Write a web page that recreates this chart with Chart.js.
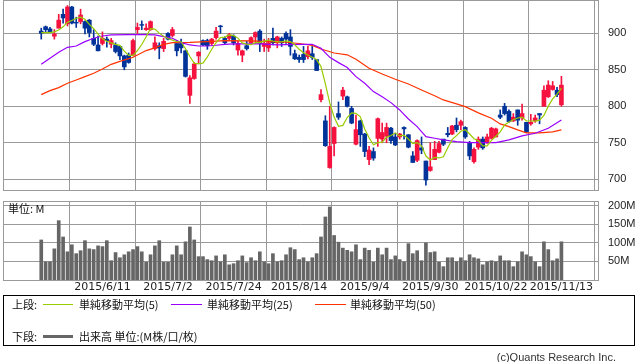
<!DOCTYPE html>
<html lang="ja">
<head>
<meta charset="utf-8">
<script src="https://cdn.jsdelivr.net/npm/chart.js@4.4.0/dist/chart.umd.min.js"></script>
<style>
  html, body { margin: 0; padding: 0; background: #fff; }
  body { width: 638px; height: 362px; position: relative; overflow: hidden; color: #111;
         font-family: "Noto Sans CJK JP", "DejaVu Sans", sans-serif; }
  canvas { position: absolute; left: 0; }
  #priceChart { top: 0; }
  #volumeChart { top: 200px; }
  .txt { position: absolute; font-size: 11px; line-height: 14px; white-space: nowrap; }
  .box { position: absolute; left: 3px; top: 295px; width: 632px; height: 51px;
         border: 1px solid #000; box-sizing: border-box; }
  .ln { position: absolute; height: 0; width: 30px; border-top: 1px solid; }
  .copy { position: absolute; right: 22px; top: 350px; font: 11px/14px "Liberation Sans", Arial, sans-serif; color: #333; }
</style>
</head>
<body>
<canvas id="priceChart" width="638" height="191"></canvas>
<canvas id="volumeChart" width="638" height="100"></canvas>

<div class="txt" style="left:8px;top:201px">単位: M</div>

<div class="box"></div>
<div class="txt" style="left:12px;top:297px">上段:</div>
<div class="ln" style="left:43px;top:304px;border-color:#99cc00"></div>
<div class="txt" style="left:79px;top:297px">単純移動平均(5)</div>
<div class="ln" style="left:171px;top:304px;width:31px;border-color:#9900ff"></div>
<div class="txt" style="left:207px;top:297px">単純移動平均(25)</div>
<div class="ln" style="left:315px;top:304px;width:31px;border-color:#ff3300"></div>
<div class="txt" style="left:350px;top:297px">単純移動平均(50)</div>
<div class="txt" style="left:12px;top:329px">下段:</div>
<div style="position:absolute;left:43px;top:335px;width:30px;height:3px;background:#666"></div>
<div class="txt" style="left:79px;top:329px">出来高 単位:(M株/口/枚)</div>
<div class="copy">(c)Quants Research Inc.</div>

<script>
// x axis: trading-day index 0 = 2015/5/22
const tickIdx = [14, 29, 44, 59, 74, 89, 104, 119];
const tickLabels = ['2015/6/11', '2015/7/2', '2015/7/24', '2015/8/14', '2015/9/4', '2015/9/30', '2015/10/22', '2015/11/13'];
const priceTicks = [700, 750, 800, 850, 900];
const volumeTicks = [50, 100, 150, 200];

const opens = [903, 909, 906, 896, 907, 926, 913, 936, 915, 916,
  916, 918, 893, 884, 886, 892, 885, 884, 882, 869,
  870, 870, 905, 912, 905, 905, 879, 883, 879, 900,
  897, 886, 886, 876, 815, 838, 869, 890, 890, 886,
  894, 910, 893, 893, 896, 877, 870, 883, 887, 895,
  903, 882, 880, 893, 887, 893, 900, 895, 872, 867,
  871, 868, 872, 864, 809, 780, 716, 749, 790, 814,
  813, 797, 748, 780, 762, 727, 738, 756, 755, 759,
  770, 758, 758, 771, 761, 732, 726, 743, 725, 712,
  727, 737, 755, 763, 762, 774, 774, 771, 750, 724,
  744, 755, 750, 756, 758, 788, 800, 793, 780, 795,
  784, 778, 776, 780, 790, 800, 813, 823, 822, 802];
const highs = [907, 910, 908, 905, 926, 933, 938, 937, 922, 933,
  917, 919, 905, 896, 902, 895, 893, 887, 882, 870,
  873, 892, 914, 917, 913, 917, 895, 887, 893, 901,
  908, 890, 892, 877, 842, 860, 875, 891, 892, 893,
  908, 911, 895, 900, 898, 889, 877, 889, 895, 902,
  905, 892, 893, 907, 896, 895, 902, 905, 877, 870,
  882, 882, 882, 864, 823, 787, 800, 772, 806, 826,
  814, 800, 788, 781, 763, 745, 743, 784, 777, 777,
  771, 763, 763, 772, 761, 738, 754, 758, 725, 750,
  752, 752, 755, 771, 774, 784, 781, 772, 752, 743,
  758, 758, 762, 771, 770, 795, 804, 795, 790, 795,
  803, 778, 789, 788, 790, 828, 835, 834, 826, 841];
const lows = [892, 902, 901, 892, 907, 914, 910, 913, 908, 913,
  899, 895, 883, 876, 884, 881, 880, 873, 864, 850,
  859, 869, 900, 905, 904, 904, 877, 865, 875, 891,
  895, 869, 873, 840, 804, 837, 858, 883, 878, 884,
  892, 900, 885, 891, 884, 870, 861, 877, 886, 886,
  875, 875, 875, 884, 880, 882, 886, 870, 864, 860,
  860, 865, 864, 849, 806, 745, 715, 732, 782, 809,
  799, 776, 747, 745, 731, 720, 726, 745, 750, 750,
  749, 746, 755, 755, 743, 723, 724, 735, 692, 711,
  727, 736, 746, 758, 761, 765, 768, 756, 727, 722,
  741, 741, 749, 755, 758, 783, 788, 778, 779, 774,
  781, 764, 774, 778, 776, 800, 812, 822, 813, 800];
const closes = [900, 905, 901, 899, 918, 921, 936, 914, 914, 925,
  907, 901, 885, 876, 893, 890, 890, 875, 869, 854,
  860, 890, 908, 911, 907, 916, 887, 880, 889, 892,
  905, 876, 880, 841, 839, 858, 874, 884, 883, 892,
  903, 909, 887, 898, 887, 886, 876, 879, 894, 901,
  886, 886, 887, 887, 895, 887, 892, 882, 865, 864,
  864, 876, 867, 849, 816, 746, 745, 771, 785, 822,
  800, 777, 768, 761, 738, 740, 729, 783, 764, 771,
  753, 747, 762, 769, 744, 723, 753, 740, 699, 717,
  741, 749, 748, 761, 773, 768, 779, 758, 732, 741,
  755, 743, 758, 770, 769, 785, 790, 779, 785, 781,
  790, 765, 778, 784, 788, 822, 829, 828, 816, 829];

// volume in millions
const volumes = [108, 49, 49, 84, 160, 116, 76, 95, 71, 79,
  106, 84, 82, 92, 90, 106, 52, 74, 60, 68,
  76, 82, 90, 76, 48, 68, 92, 106, 48, 48,
  68, 92, 68, 103, 143, 108, 63, 63, 55, 52,
  65, 49, 68, 41, 44, 52, 65, 47, 60, 52,
  76, 49, 44, 71, 49, 52, 68, 87, 82, 55,
  60, 49, 60, 71, 116, 170, 197, 120, 102, 86,
  80, 76, 95, 55, 86, 80, 48, 86, 68, 86,
  55, 65, 55, 49, 98, 71, 79, 52, 100, 74,
  76, 48, 36, 60, 60, 49, 60, 52, 68, 60,
  57, 41, 49, 52, 49, 65, 52, 52, 36, 49,
  76, 68, 63, 49, 36, 103, 82, 52, 57, 103];

// moving averages
const ma5 = [901, 901, 901, 902, 904.6, 908.8, 915, 917.6, 920.6, 922,
  919.2, 912.2, 906.4, 898.8, 892.4, 889, 886.8, 884.8, 883.4, 875.6,
  869.6, 869.6, 876.2, 884.6, 895.2, 906.4, 905.8, 900.2, 895.8, 892.8,
  890.6, 888.4, 888.4, 878.8, 868.2, 858.8, 858.4, 859.2, 867.6, 878.2,
  887.2, 894.2, 894.8, 897.8, 896.8, 893.4, 886.8, 885.2, 884.4, 887.2,
  887.2, 889.2, 890.8, 889.4, 888.2, 888.4, 889.6, 888.6, 884.2, 878,
  873.4, 870.2, 867.2, 864, 854.4, 830.8, 804.6, 785.4, 772.6, 773.8,
  784.6, 791, 790.4, 785.6, 768.8, 756.8, 747.2, 750.2, 750.8, 757.4,
  760, 763.6, 759.4, 760.4, 755, 749, 750.2, 745.8, 731.8, 726.4,
  730, 729.2, 730.8, 743.2, 754.4, 759.8, 765.8, 767.8, 762, 755.6,
  753, 745.8, 745.8, 753.4, 759, 765, 774.4, 778.6, 781.6, 784,
  785, 780, 779.8, 779.6, 781, 787.4, 800.2, 810.2, 816.6, 824.8];
const ma25Idx = [0, 2, 4, 6, 8, 10, 12, 14, 16, 20, 24, 26, 28, 30, 32, 34, 36, 38, 40, 42, 44,
  50, 54, 58, 62, 64, 66, 68, 70, 72, 74, 76, 78, 80, 82, 84, 86, 87, 88, 90, 92, 95, 98,
  104, 107, 110, 113, 116, 119];
const ma25 = [857.5, 865.8, 874, 880.8, 882.6, 888.6, 893.2, 896.3, 897.7, 898.2, 898.2, 897.7, 895.4,
  893.2, 887.2, 884, 882.6, 882.6, 883.6, 884.9, 885.4,
  885.4, 884, 884.9, 884.9, 879.5, 867.1, 859.8, 853, 840.6, 831.5, 820.1, 813.2, 805, 795,
  782.6, 772.1, 765.3, 758.4, 756.2, 753.9, 751.6, 750.2,
  750.2, 753.9, 759.4, 763, 769.9, 781.3];
const ma50Idx = [0, 2, 4, 6, 8, 10, 12, 14, 16, 18, 21, 24, 26, 28, 30, 34, 38, 42, 48, 52,
  56, 59, 62, 64, 67, 70, 72, 75, 78, 81, 84, 87, 90, 92, 95, 97, 100, 103, 105, 107,
  109, 111, 114, 117, 119];
const ma50 = [816, 821.5, 825.6, 831.5, 836, 840.6, 845.2, 851, 857.5, 861.5,
  867.1, 876.3, 880, 884.9, 887.2, 887.5, 888.6, 890, 889.5, 888.6,
  887.7, 886, 883.5, 878.5, 873, 870.5, 864.4, 852, 844.3, 837,
  830.6, 822.4, 814.5, 808.7, 803.2, 799.5, 791, 783.5, 775.8, 772.1,
  767.6, 763.5, 763.5, 765, 767.6];

const GRID = '#9a9a9a';
const UP = '#f5123f';
const DOWN = '#003399';
const X_MIN = -8.75, X_MAX = 127.37;

const candleColor = ctx => closes[ctx.dataIndex] >= opens[ctx.dataIndex] ? UP : DOWN;

// draws the panel frame under the data
const framePlugin = {
  id: 'frame',
  beforeDatasetsDraw(chart) {
    const { ctx, chartArea: a } = chart;
    ctx.save();
    ctx.strokeStyle = GRID;
    ctx.lineWidth = 1;
    ctx.strokeRect(a.left + 0.5, a.top + 0.5, a.right - a.left, a.bottom - a.top);
    ctx.restore();
  }
};

function noPad(axis) {
  axis.paddingTop = 0; axis.paddingBottom = 0;
  axis.paddingLeft = 0; axis.paddingRight = 0;
}

function xAxis(showLabels, height) {
  return {
    type: 'linear', min: X_MIN, max: X_MAX, offset: false,
    afterBuildTicks: a => { a.ticks = tickIdx.map(v => ({ value: v })); },
    afterFit: a => { a.height = height; noPad(a); },
    grid: { color: GRID, drawTicks: false },
    border: { display: false },
    ticks: {
      display: showLabels, autoSkip: false, maxRotation: 0, padding: 1,
      color: '#222', font: { family: "'DejaVu Sans', sans-serif", size: 11 },
      callback: (v, i) => tickLabels[i]
    }
  };
}

const lineStyle = { type: 'line', borderWidth: 1.2, pointRadius: 0, tension: 0, order: 0 };

new Chart(document.getElementById('priceChart'), {
  type: 'bar',
  data: {
    datasets: [
      { ...lineStyle, label: 'MA5', borderColor: '#99cc00', data: ma5.map((v, i) => ({ x: i, y: v })) },
      { ...lineStyle, label: 'MA25', borderColor: '#9900ff', data: ma25Idx.map((x, k) => ({ x, y: ma25[k] })) },
      { ...lineStyle, label: 'MA50', borderColor: '#ff3300', data: ma50Idx.map((x, k) => ({ x, y: ma50[k] })) },
      {
        label: 'body', order: 1, grouped: false, barThickness: 4,
        backgroundColor: candleColor, borderWidth: 0,
        data: opens.map((o, i) => ({ x: i, y: [o, closes[i]] }))
      },
      {
        label: 'wick', order: 2, grouped: false, barThickness: 1,
        backgroundColor: candleColor, borderWidth: 0,
        data: lows.map((l, i) => ({ x: i, y: [l, highs[i]] }))
      }
    ]
  },
  options: {
    responsive: false, animation: false,
    layout: { padding: { left: 3, top: 0, right: 0, bottom: 0 } },
    plugins: { legend: { display: false }, tooltip: { enabled: false } },
    scales: {
      x: xAxis(false, 1),
      y: {
        position: 'right', min: 685.3, max: 945.6,
        afterBuildTicks: a => { a.ticks = priceTicks.map(v => ({ value: v })); },
        afterFit: a => { a.width = 40; noPad(a); },
        grid: { color: GRID, drawTicks: false },
        border: { display: false },
        ticks: { padding: 10, color: '#222', font: { family: "'Liberation Sans', sans-serif", size: 11 } }
      }
    }
  },
  plugins: [framePlugin]
});

new Chart(document.getElementById('volumeChart'), {
  type: 'bar',
  data: {
    datasets: [{
      label: '出来高', barThickness: 3, backgroundColor: '#666666', borderWidth: 0,
      data: volumes.map((v, i) => ({ x: i, y: v }))
    }]
  },
  options: {
    responsive: false, animation: false,
    layout: { padding: { left: 3, top: 1, right: 0, bottom: 0 } },
    plugins: { legend: { display: false }, tooltip: { enabled: false } },
    scales: {
      x: xAxis(true, 20),
      y: {
        position: 'right', min: 0, max: 213,
        afterBuildTicks: a => { a.ticks = volumeTicks.map(v => ({ value: v })); },
        afterFit: a => { a.width = 40; noPad(a); },
        grid: { color: GRID, drawTicks: false },
        border: { display: false },
        ticks: {
          padding: 10, color: '#222', font: { family: "'Liberation Sans', sans-serif", size: 11 },
          callback: v => v + 'M'
        }
      }
    }
  },
  plugins: [framePlugin]
});
</script>
</body>
</html>
